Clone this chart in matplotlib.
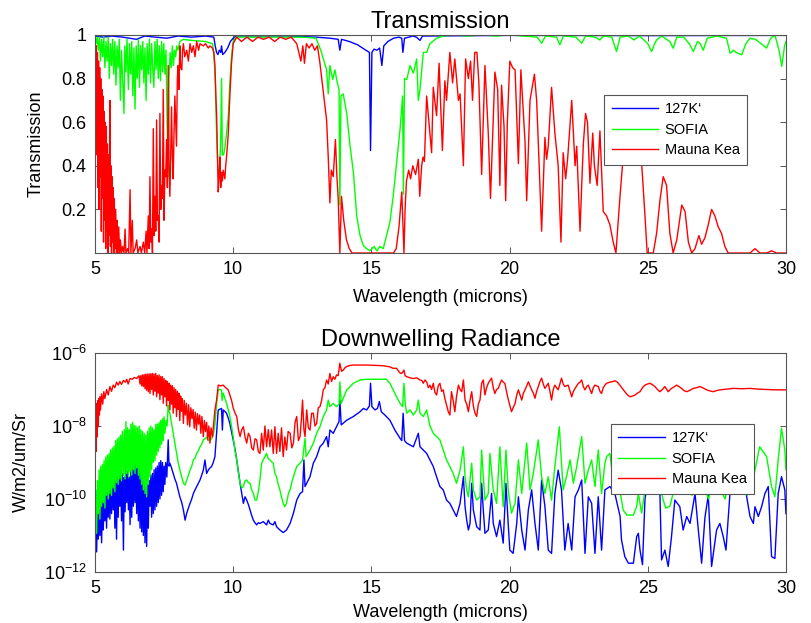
"""Atmospheric transmission and downwelling radiance, 5-30 microns.

Two stacked panels: transmission (linear) and radiance (log), each with
three sites. Values were read off the reference figure by eye.

Writes out.png
"""

import numpy as np
import matplotlib
matplotlib.use("Agg")
import matplotlib.pyplot as plt

# ---- transmission (wavelength um, transmission) ----------------------------
TRANS_127K = [
    (5.0, 0.995), (5.3, 0.99), (5.6, 0.995), (6.0, 0.99), (6.5, 0.98),
    (6.8, 0.995), (7.2, 0.99), (7.6, 0.985), (8.0, 0.995), (8.5, 0.99),
    (9.0, 0.995), (9.3, 0.99), (9.35, 0.95), (9.4, 0.92), (9.45, 0.91),
    (9.5, 0.93), (9.55, 0.92), (9.58, 0.95), (9.62, 0.91), (9.7, 0.92),
    (9.8, 0.94), (9.9, 0.97), (10.0, 0.985), (10.1, 0.995), (12.0, 0.995),
    (13.0, 0.99), (13.5, 0.985), (13.8, 0.98), (13.86, 0.93), (13.92, 0.98),
    (14.2, 0.97), (14.5, 0.955), (14.8, 0.93), (14.93, 0.92), (14.97, 0.47),
    (15.02, 0.92), (15.1, 0.935), (15.2, 0.93), (15.3, 0.94), (15.38, 0.86),
    (15.45, 0.95), (15.6, 0.97), (15.8, 0.985), (16.0, 0.99), (16.1, 0.985),
    (16.14, 0.92), (16.2, 0.985), (16.5, 0.995), (16.63, 0.99), (16.76, 0.975),
    (16.85, 0.995), (20.0, 0.998), (25.0, 0.997), (30.0, 0.998),
]

TRANS_SOFIA = [
    (5.00, 1.0), (5.04, 0.96), (5.08, 0.99), (5.12, 0.93), (5.16, 0.99),
    (5.20, 0.88), (5.24, 0.98), (5.28, 0.90), (5.32, 0.99), (5.36, 0.85),
    (5.40, 0.97), (5.44, 0.88), (5.48, 0.99), (5.52, 0.80), (5.56, 0.96),
    (5.60, 0.86), (5.64, 0.98), (5.68, 0.82), (5.72, 0.97), (5.76, 0.77),
    (5.80, 0.95), (5.84, 0.85), (5.88, 0.98), (5.92, 0.70), (5.96, 0.93),
    (6.00, 0.80), (6.05, 0.64), (6.08, 0.95), (6.12, 0.83), (6.16, 0.98),
    (6.21, 0.75), (6.25, 0.96), (6.29, 0.82), (6.33, 0.97), (6.37, 0.72),
    (6.41, 0.94), (6.45, 0.66), (6.49, 0.95), (6.53, 0.80), (6.57, 0.98),
    (6.61, 0.76), (6.65, 0.95), (6.69, 0.84), (6.73, 0.97), (6.77, 0.78),
    (6.81, 0.94), (6.85, 0.70), (6.89, 0.96), (6.93, 0.82), (6.97, 0.98),
    (7.01, 0.78), (7.05, 0.96), (7.09, 0.85), (7.13, 0.76), (7.17, 0.97),
    (7.21, 0.84), (7.25, 0.98), (7.29, 0.80), (7.33, 0.95), (7.37, 0.79),
    (7.41, 0.97), (7.45, 0.83), (7.49, 0.96), (7.53, 0.82), (7.57, 0.93),
    (7.61, 0.60), (7.65, 0.35), (7.68, 0.80), (7.72, 0.92), (7.76, 0.85),
    (7.80, 0.95), (7.84, 0.86), (7.88, 0.93), (7.92, 0.90), (7.96, 0.95),
    (8.00, 0.93), (8.07, 0.97), (8.2, 0.98), (8.5, 0.975), (9.0, 0.97),
    (9.25, 0.96), (9.30, 0.92), (9.35, 0.80), (9.40, 0.55), (9.45, 0.38),
    (9.50, 0.35), (9.55, 0.52), (9.58, 0.80), (9.61, 0.45), (9.65, 0.45),
    (9.70, 0.48), (9.76, 0.55), (9.82, 0.62), (9.88, 0.78), (9.94, 0.90),
    (10.0, 0.97), (10.1, 0.99), (12.5, 0.99), (13.0, 0.985), (13.17, 0.93),
    (13.38, 0.84), (13.44, 0.73), (13.50, 0.86), (13.60, 0.795), (13.68, 0.84),
    (13.77, 0.78), (13.83, 0.75), (13.86, 0.22), (13.90, 0.72), (13.98, 0.73),
    (14.11, 0.64), (14.23, 0.49), (14.35, 0.37), (14.47, 0.17), (14.59, 0.08),
    (14.71, 0.034), (14.83, 0.02), (14.95, 0.01), (15.10, 0.03), (15.20, 0.01),
    (15.30, 0.03), (15.43, 0.02), (15.55, 0.08), (15.67, 0.14), (15.79, 0.26),
    (15.91, 0.41), (16.04, 0.57), (16.13, 0.72), (16.16, 0.27), (16.20, 0.80),
    (16.28, 0.795), (16.40, 0.86), (16.52, 0.825), (16.64, 0.89), (16.70, 0.70),
    (16.76, 0.75), (16.88, 0.92), (17.0, 0.92), (17.12, 0.96), (17.36, 0.985),
    (17.6, 0.995), (18.0, 1.0), (18.5, 0.995), (19.0, 1.0), (19.5, 0.995),
    (20.0, 1.0), (20.5, 0.995), (21.0, 0.99), (21.16, 0.962), (21.3, 0.995),
    (21.7, 0.99), (21.82, 0.955), (21.95, 0.995), (22.4, 0.99), (22.61, 0.962),
    (22.75, 0.995), (23.1, 0.99), (23.27, 0.977), (23.4, 0.995), (23.7, 0.99),
    (23.87, 0.924), (24.0, 0.99), (24.3, 0.995), (24.5, 0.977), (24.7, 0.995),
    (25.0, 0.96), (25.14, 0.924), (25.25, 0.96), (25.32, 0.977), (25.5, 0.995),
    (25.8, 0.97), (25.92, 0.939), (26.05, 0.99), (26.3, 0.99), (26.5, 0.96),
    (26.65, 0.924), (26.8, 0.97), (26.9, 0.96), (27.01, 0.93), (27.15, 0.985),
    (27.5, 0.995), (27.85, 0.985), (27.98, 0.916), (28.1, 0.93), (28.2, 0.92),
    (28.4, 0.909), (28.55, 0.96), (28.7, 0.985), (28.9, 0.98), (29.1, 0.96),
    (29.3, 0.94), (29.45, 0.985), (29.6, 1.0), (29.75, 0.93), (29.85, 0.856),
    (29.95, 0.95), (30.0, 0.97),
]

TRANS_MAUNAKEA = [
    (5.00, 0.98), (5.03, 0.70), (5.05, 0.95), (5.07, 0.45), (5.09, 0.92),
    (5.11, 0.30), (5.13, 0.88), (5.15, 0.20), (5.17, 0.85), (5.19, 0.35),
    (5.21, 0.80), (5.23, 0.10), (5.25, 0.75), (5.27, 0.25), (5.29, 0.72),
    (5.31, 0.05), (5.33, 0.65), (5.35, 0.15), (5.37, 0.60), (5.39, 0.02),
    (5.41, 0.58), (5.43, 0.10), (5.45, 0.50), (5.47, 0.0), (5.49, 0.45),
    (5.51, 0.08), (5.54, 0.70), (5.56, 0.03), (5.58, 0.40), (5.60, 0.0),
    (5.62, 0.35), (5.64, 0.05), (5.66, 0.30), (5.68, 0.0), (5.70, 0.25),
    (5.72, 0.02), (5.75, 0.20), (5.78, 0.0), (5.80, 0.15), (5.83, 0.0),
    (5.86, 0.12), (5.89, 0.0), (5.92, 0.06), (5.96, 0.0), (6.00, 0.03),
    (6.05, 0.0), (6.09, 0.11), (6.12, 0.0), (6.18, 0.02), (6.22, 0.0),
    (6.27, 0.29), (6.30, 0.0), (6.35, 0.15), (6.38, 0.0), (6.45, 0.02),
    (6.51, 0.06), (6.55, 0.0), (6.63, 0.03), (6.68, 0.0), (6.75, 0.05),
    (6.80, 0.0), (6.85, 0.10), (6.88, 0.0), (6.93, 0.17), (6.96, 0.02),
    (6.99, 0.35), (7.02, 0.05), (7.05, 0.11), (7.08, 0.0), (7.11, 0.57),
    (7.14, 0.08), (7.17, 0.26), (7.20, 0.10), (7.23, 0.61), (7.26, 0.15),
    (7.29, 0.17), (7.32, 0.05), (7.35, 0.64), (7.38, 0.20), (7.41, 0.31),
    (7.44, 0.25), (7.47, 0.75), (7.50, 0.15), (7.53, 0.38), (7.56, 0.35),
    (7.59, 0.52), (7.62, 0.30), (7.65, 0.86), (7.68, 0.40), (7.71, 0.26),
    (7.74, 0.45), (7.77, 0.67), (7.80, 0.45), (7.83, 0.34), (7.86, 0.55),
    (7.89, 0.72), (7.92, 0.60), (7.95, 0.49), (7.98, 0.80), (8.01, 0.86),
    (8.04, 0.75), (8.07, 0.95), (8.10, 0.85), (8.14, 0.84), (8.17, 0.93),
    (8.20, 0.96), (8.25, 0.90), (8.32, 0.93), (8.38, 0.88), (8.44, 0.96),
    (8.50, 0.92), (8.56, 0.95), (8.62, 0.90), (8.68, 0.97), (8.75, 0.93),
    (8.80, 0.96), (8.92, 0.95), (9.00, 0.96), (9.10, 0.94), (9.16, 0.95),
    (9.25, 0.94), (9.30, 0.92), (9.34, 0.86), (9.38, 0.70), (9.40, 0.64),
    (9.43, 0.45), (9.46, 0.28), (9.49, 0.35), (9.52, 0.44), (9.55, 0.30),
    (9.58, 0.37), (9.61, 0.33), (9.64, 0.38), (9.67, 0.36), (9.70, 0.34),
    (9.73, 0.40), (9.76, 0.44), (9.82, 0.54), (9.88, 0.72), (9.94, 0.87),
    (10.00, 0.96), (10.13, 0.99), (10.3, 0.97), (10.5, 0.99), (10.7, 0.97),
    (10.9, 0.99), (11.1, 0.98), (11.3, 0.99), (11.5, 0.97), (11.7, 0.99),
    (11.9, 0.98), (12.1, 0.99), (12.3, 0.96), (12.45, 0.88), (12.52, 0.95),
    (12.58, 0.87), (12.65, 0.96), (12.75, 0.94), (12.85, 0.96), (12.95, 0.93),
    (13.05, 0.95), (13.14, 0.87), (13.25, 0.75), (13.38, 0.61), (13.44, 0.44),
    (13.50, 0.23), (13.55, 0.38), (13.62, 0.35), (13.70, 0.52), (13.75, 0.36),
    (13.80, 0.25), (13.86, 0.0), (13.92, 0.26), (14.0, 0.15), (14.1, 0.06),
    (14.2, 0.02), (14.3, 0.0), (15.8, 0.0), (15.9, 0.02), (16.0, 0.12),
    (16.05, 0.20), (16.1, 0.28), (16.18, 0.0), (16.22, 0.20), (16.27, 0.33),
    (16.35, 0.38), (16.42, 0.34), (16.50, 0.40), (16.60, 0.36), (16.70, 0.43),
    (16.75, 0.26), (16.82, 0.40), (16.87, 0.44), (16.92, 0.42), (17.00, 0.72),
    (17.18, 0.46), (17.24, 0.76), (17.36, 0.63), (17.45, 0.87), (17.57, 0.47),
    (17.66, 0.79), (17.72, 0.70), (17.84, 0.92), (17.94, 0.78), (18.02, 0.89),
    (18.15, 0.70), (18.21, 0.73), (18.33, 0.40), (18.41, 0.89), (18.51, 0.80),
    (18.59, 0.88), (18.66, 0.70), (18.74, 0.92), (18.82, 0.92), (18.89, 0.78),
    (18.99, 0.36), (19.11, 0.86), (19.23, 0.55), (19.31, 0.25), (19.47, 0.83),
    (19.57, 0.75), (19.65, 0.31), (19.71, 0.77), (19.80, 0.58), (19.86, 0.24),
    (19.92, 0.60), (20.01, 0.88), (20.11, 0.85), (20.20, 0.84), (20.32, 0.41),
    (20.41, 0.84), (20.56, 0.51), (20.62, 0.24), (20.74, 0.70), (20.90, 0.82),
    (20.98, 0.70), (21.06, 0.44), (21.16, 0.10), (21.28, 0.53), (21.34, 0.43),
    (21.40, 0.49), (21.52, 0.76), (21.64, 0.55), (21.76, 0.40), (21.86, 0.05),
    (21.94, 0.46), (22.03, 0.34), (22.10, 0.43), (22.25, 0.70), (22.37, 0.40),
    (22.43, 0.49), (22.55, 0.10), (22.61, 0.31), (22.67, 0.50), (22.75, 0.64),
    (22.82, 0.60), (22.91, 0.32), (23.01, 0.55), (23.07, 0.40), (23.17, 0.31),
    (23.27, 0.56), (23.39, 0.19), (23.51, 0.17), (23.63, 0.13), (23.75, 0.05),
    (23.85, 0.0), (23.99, 0.25), (24.09, 0.41), (24.36, 0.64), (24.60, 0.60),
    (24.78, 0.41), (24.90, 0.17), (24.98, 0.0), (25.20, 0.0), (25.32, 0.09),
    (25.44, 0.24), (25.56, 0.35), (25.68, 0.31), (25.80, 0.09), (25.92, 0.0),
    (26.05, 0.06), (26.23, 0.22), (26.35, 0.19), (26.47, 0.05), (26.59, 0.0),
    (26.71, 0.02), (26.85, 0.08), (26.95, 0.04), (27.07, 0.07), (27.19, 0.13),
    (27.31, 0.20), (27.43, 0.17), (27.55, 0.12), (27.67, 0.09), (27.79, 0.03),
    (27.91, 0.0), (28.70, 0.0), (28.88, 0.02), (29.06, 0.0), (29.30, 0.0),
    (29.48, 0.01), (29.66, 0.0), (30.0, 0.0),
]

# ---- downwelling radiance (wavelength um, log10 W/m2/um/Sr) -----------------
RAD_127K = [
    (5.00, -11.40), (5.03, -10.70), (5.06, -11.45), (5.09, -10.40), (5.12, -11.10),
    (5.15, -10.20), (5.18, -11.00), (5.21, -10.10), (5.24, -11.20), (5.27, -10.05),
    (5.30, -10.85), (5.33, -9.90), (5.36, -10.60), (5.39, -9.75), (5.42, -10.80),
    (5.45, -9.70), (5.48, -10.50), (5.51, -9.60), (5.54, -10.55), (5.57, -9.50),
    (5.60, -10.40), (5.63, -9.45), (5.66, -10.30), (5.69, -9.35), (5.72, -10.80),
    (5.75, -9.30), (5.78, -11.10), (5.81, -9.25), (5.84, -10.50), (5.87, -9.20),
    (5.90, -10.20), (5.93, -9.15), (5.96, -10.60), (5.99, -9.30), (6.03, -11.40),
    (6.06, -9.40), (6.09, -10.35), (6.12, -9.10), (6.15, -10.10), (6.18, -9.25),
    (6.21, -10.30), (6.24, -9.40), (6.27, -10.70), (6.30, -9.20), (6.33, -10.50),
    (6.36, -9.05), (6.39, -10.20), (6.42, -8.95), (6.45, -10.10), (6.48, -9.00),
    (6.51, -10.40), (6.54, -8.93), (6.57, -10.60), (6.60, -9.10), (6.63, -10.80),
    (6.66, -9.30), (6.69, -10.90), (6.72, -9.40), (6.75, -11.00), (6.78, -9.50),
    (6.81, -11.20), (6.84, -9.70), (6.87, -11.30), (6.90, -9.60), (6.93, -10.80),
    (6.96, -9.50), (6.99, -10.20), (7.02, -9.35), (7.05, -10.50), (7.08, -9.30),
    (7.11, -10.40), (7.14, -9.20), (7.17, -10.30), (7.20, -9.15), (7.23, -10.20),
    (7.26, -9.10), (7.29, -10.10), (7.32, -9.00), (7.35, -10.00), (7.38, -8.95),
    (7.41, -9.90), (7.44, -9.00), (7.47, -9.80), (7.50, -9.10), (7.53, -9.60),
    (7.56, -9.00), (7.60, -9.40), (7.65, -8.38), (7.68, -9.10), (7.71, -9.02),
    (7.77, -9.15), (7.83, -9.30), (7.89, -9.45), (7.95, -9.57), (8.01, -9.75),
    (8.07, -9.94), (8.14, -10.10), (8.20, -10.30), (8.26, -10.58), (8.32, -10.39),
    (8.38, -10.25), (8.44, -10.12), (8.50, -10.00), (8.56, -9.85), (8.62, -9.75),
    (8.68, -9.66), (8.74, -9.57), (8.80, -9.48), (8.86, -9.35), (8.92, -9.21),
    (8.98, -8.93), (9.04, -9.30), (9.10, -9.21), (9.16, -9.15), (9.22, -9.11),
    (9.28, -9.00), (9.34, -8.84), (9.40, -8.20), (9.46, -7.56), (9.52, -7.54),
    (9.58, -7.52), (9.61, -8.11), (9.64, -7.56), (9.70, -7.60), (9.76, -7.65),
    (9.82, -7.78), (9.88, -7.93), (9.94, -8.15), (10.00, -8.38), (10.07, -8.65),
    (10.13, -8.93), (10.19, -9.25), (10.25, -9.57), (10.31, -9.85), (10.37, -10.12),
    (10.43, -9.94), (10.49, -10.03), (10.55, -10.15), (10.61, -10.30), (10.67, -10.45),
    (10.73, -10.58), (10.79, -10.65), (10.85, -10.71), (10.91, -10.65), (10.97, -10.67),
    (11.09, -10.62), (11.21, -10.71), (11.27, -10.58), (11.33, -10.67), (11.45, -10.71),
    (11.51, -10.62), (11.57, -10.76), (11.69, -10.85), (11.81, -10.92), (11.93, -10.85),
    (12.06, -10.67), (12.18, -10.39), (12.30, -10.03), (12.42, -9.85), (12.51, -9.80),
    (12.56, -8.93), (12.60, -9.66), (12.66, -9.57), (12.78, -9.39), (12.90, -9.02),
    (13.02, -8.84), (13.14, -8.57), (13.26, -8.47), (13.38, -8.29), (13.44, -8.57),
    (13.50, -8.11), (13.62, -8.20), (13.74, -8.02), (13.83, -7.88), (13.86, -7.29),
    (13.91, -7.97), (14.11, -7.84), (14.35, -7.74), (14.59, -7.61), (14.71, -7.52),
    (14.83, -7.56), (14.93, -7.45), (14.97, -6.83), (15.02, -7.47), (15.13, -7.56),
    (15.22, -7.52), (15.29, -7.33), (15.36, -7.61), (15.49, -7.70), (15.67, -7.84),
    (15.85, -8.11), (16.04, -8.34), (16.10, -8.40), (16.15, -7.65), (16.20, -8.40),
    (16.28, -8.47), (16.52, -8.57), (16.70, -8.20), (16.76, -8.57), (16.88, -8.66),
    (17.00, -8.75), (17.12, -8.93), (17.24, -9.11), (17.36, -9.39), (17.48, -9.66),
    (17.60, -9.75), (17.72, -10.03), (17.84, -10.12), (17.96, -10.30), (18.08, -10.48),
    (18.21, -10.12), (18.33, -9.39), (18.39, -10.21), (18.45, -10.58), (18.51, -10.85),
    (18.57, -10.67), (18.63, -9.57), (18.69, -10.30), (18.81, -10.76), (18.93, -10.85),
    (18.99, -9.57), (19.05, -10.30), (19.11, -10.94), (19.23, -10.85), (19.35, -9.85),
    (19.41, -10.67), (19.53, -11.03), (19.65, -10.58), (19.77, -11.21), (19.87, -9.57),
    (19.95, -10.67), (20.01, -11.40), (20.13, -11.49), (20.26, -10.67), (20.32, -9.94),
    (20.44, -10.85), (20.56, -11.40), (20.68, -10.30), (20.80, -9.75), (20.92, -10.67),
    (21.04, -11.40), (21.16, -9.48), (21.28, -10.21), (21.40, -11.40), (21.52, -11.49),
    (21.64, -9.85), (21.76, -9.21), (21.88, -9.75), (22.00, -11.40), (22.12, -10.67),
    (22.25, -11.40), (22.37, -9.94), (22.49, -9.75), (22.61, -9.48), (22.73, -11.49),
    (22.85, -9.94), (22.97, -10.12), (23.09, -11.49), (23.21, -9.94), (23.33, -11.40),
    (23.45, -9.75), (23.63, -9.66), (23.81, -9.85), (24.00, -10.48), (24.05, -11.12),
    (24.17, -11.58), (24.30, -11.76), (24.48, -11.76), (24.60, -11.03), (24.66, -10.94),
    (24.72, -11.40), (24.81, -11.80), (24.90, -10.00), (25.08, -9.20), (25.32, -9.50),
    (25.44, -9.85), (25.50, -11.67), (25.62, -11.40), (25.74, -11.85), (25.86, -11.03),
    (25.98, -10.03), (26.16, -10.21), (26.28, -10.85), (26.41, -10.48), (26.53, -10.67),
    (26.71, -9.85), (26.83, -10.85), (26.95, -11.76), (27.07, -10.50), (27.19, -9.90),
    (27.31, -11.85), (27.49, -10.85), (27.61, -10.67), (27.73, -11.03), (27.83, -11.40),
    (27.97, -9.90), (28.21, -9.20), (28.46, -9.30), (28.58, -9.94), (28.70, -10.48),
    (28.82, -10.67), (28.88, -10.21), (29.00, -10.48), (29.12, -10.21), (29.24, -9.85),
    (29.36, -9.66), (29.48, -11.58), (29.60, -11.63), (29.72, -9.85), (29.84, -9.39),
    (29.96, -9.75), (30.00, -10.40),
]

RAD_SOFIA = [
    (5.00, -10.76), (5.03, -9.75), (5.06, -10.94), (5.09, -9.50), (5.12, -10.40),
    (5.15, -9.20), (5.18, -10.55), (5.21, -9.10), (5.24, -10.20), (5.27, -9.05),
    (5.30, -10.10), (5.33, -8.95), (5.36, -10.25), (5.39, -8.85), (5.42, -9.90),
    (5.45, -8.80), (5.48, -10.00), (5.51, -8.75), (5.54, -9.85), (5.57, -8.65),
    (5.60, -9.90), (5.63, -8.60), (5.66, -9.70), (5.69, -8.55), (5.72, -9.80),
    (5.75, -8.40), (5.78, -9.55), (5.81, -8.35), (5.84, -9.60), (5.87, -8.30),
    (5.90, -9.45), (5.93, -8.25), (5.96, -9.50), (5.99, -8.15), (6.03, -9.35),
    (6.06, -8.10), (6.09, -9.45), (6.12, -7.88), (6.15, -9.30), (6.18, -8.05),
    (6.21, -9.40), (6.24, -8.10), (6.27, -9.25), (6.30, -7.95), (6.33, -9.35),
    (6.36, -7.90), (6.39, -9.20), (6.42, -7.98), (6.45, -9.30), (6.48, -8.00),
    (6.51, -9.15), (6.54, -8.05), (6.57, -9.35), (6.60, -8.00), (6.63, -9.45),
    (6.66, -8.10), (6.69, -9.60), (6.72, -8.15), (6.75, -9.75), (6.78, -8.20),
    (6.81, -9.85), (6.84, -8.25), (6.87, -9.94), (6.90, -8.15), (6.93, -9.60),
    (6.96, -8.05), (6.99, -9.40), (7.02, -8.00), (7.05, -9.20), (7.08, -8.05),
    (7.11, -9.00), (7.14, -8.10), (7.17, -8.95), (7.20, -7.95), (7.23, -8.80),
    (7.26, -7.95), (7.29, -8.70), (7.32, -7.90), (7.35, -8.60), (7.38, -7.85),
    (7.41, -8.50), (7.44, -7.80), (7.47, -8.40), (7.50, -7.75), (7.53, -8.20),
    (7.57, -7.85), (7.61, -8.00), (7.65, -7.43), (7.68, -7.60), (7.71, -7.65),
    (7.77, -7.93), (7.83, -8.20), (7.89, -8.47), (7.95, -8.75), (8.01, -9.00),
    (8.07, -9.20), (8.14, -9.40), (8.20, -9.57), (8.26, -9.62), (8.32, -9.48),
    (8.38, -9.35), (8.44, -9.21), (8.50, -9.10), (8.56, -8.93), (8.62, -8.88),
    (8.68, -8.75), (8.74, -8.68), (8.80, -8.57), (8.86, -8.50), (8.92, -8.38),
    (8.98, -8.35), (9.04, -8.30), (9.10, -8.40), (9.16, -8.38), (9.22, -8.35),
    (9.28, -8.25), (9.34, -7.95), (9.40, -7.40), (9.46, -7.01), (9.52, -7.00),
    (9.58, -7.01), (9.60, -7.30), (9.64, -7.10), (9.76, -7.38), (9.82, -7.55),
    (9.88, -7.74), (9.94, -8.00), (10.00, -8.29), (10.07, -8.70), (10.13, -8.93),
    (10.19, -9.30), (10.25, -9.57), (10.31, -9.70), (10.37, -9.66), (10.43, -9.50),
    (10.49, -9.48), (10.55, -9.55), (10.61, -9.57), (10.67, -9.75), (10.73, -9.85),
    (10.79, -10.03), (10.85, -10.03), (10.91, -9.80), (10.97, -9.48), (11.03, -9.02),
    (11.09, -8.93), (11.15, -8.84), (11.21, -8.75), (11.27, -8.90), (11.33, -8.93),
    (11.39, -8.98), (11.45, -9.02), (11.51, -9.30), (11.57, -9.39), (11.63, -9.60),
    (11.69, -9.75), (11.75, -9.95), (11.81, -10.12), (11.87, -10.21), (11.93, -10.12),
    (12.00, -9.85), (12.06, -9.75), (12.12, -9.55), (12.18, -9.39), (12.30, -9.11),
    (12.42, -9.02), (12.51, -8.93), (12.60, -8.34), (12.64, -8.84), (12.78, -8.66),
    (12.90, -8.47), (13.02, -8.20), (13.14, -8.02), (13.26, -7.74), (13.38, -7.56),
    (13.44, -7.29), (13.50, -7.47), (13.62, -7.38), (13.74, -7.47), (13.83, -7.40),
    (13.86, -6.79), (13.91, -7.38), (14.11, -7.01), (14.35, -6.83), (14.59, -6.74),
    (14.83, -6.72), (15.19, -6.72), (15.55, -6.72), (15.67, -6.83), (15.79, -7.01),
    (15.91, -7.20), (16.04, -7.38), (16.13, -7.47), (16.18, -6.83), (16.23, -7.42),
    (16.28, -7.65), (16.40, -7.56), (16.52, -7.70), (16.64, -7.56), (16.70, -7.29),
    (16.76, -7.65), (16.88, -7.74), (17.00, -7.56), (17.12, -8.00), (17.24, -8.20),
    (17.36, -8.29), (17.48, -8.38), (17.60, -8.66), (17.72, -8.93), (17.84, -9.11),
    (17.96, -9.30), (18.08, -9.57), (18.21, -9.21), (18.33, -8.57), (18.39, -9.39),
    (18.45, -9.75), (18.51, -9.94), (18.63, -9.02), (18.69, -9.75), (18.81, -10.03),
    (18.93, -9.94), (18.99, -8.66), (19.05, -9.39), (19.11, -10.03), (19.23, -9.85),
    (19.29, -8.75), (19.41, -9.75), (19.53, -10.12), (19.65, -8.57), (19.77, -10.21),
    (19.87, -8.66), (19.95, -9.75), (20.07, -10.39), (20.20, -10.12), (20.32, -8.93),
    (20.44, -9.85), (20.62, -8.47), (20.74, -9.75), (20.86, -9.30), (21.04, -8.38),
    (21.16, -9.39), (21.28, -9.85), (21.40, -9.39), (21.52, -10.03), (21.64, -9.11),
    (21.80, -8.02), (21.94, -9.75), (22.06, -9.39), (22.19, -8.93), (22.31, -9.57),
    (22.43, -9.11), (22.61, -8.29), (22.73, -9.57), (22.85, -9.21), (22.97, -8.93),
    (23.09, -9.66), (23.21, -8.66), (23.33, -9.85), (23.45, -9.02), (23.51, -8.84),
    (23.63, -8.75), (23.75, -9.50), (23.87, -9.85), (23.99, -9.75), (24.11, -10.30),
    (24.24, -10.44), (24.48, -10.44), (24.60, -10.21), (24.66, -9.85), (24.78, -10.39),
    (24.90, -9.75), (25.00, -9.00), (25.20, -8.60), (25.40, -9.50), (25.55, -10.00),
    (25.65, -10.25), (25.80, -10.20), (25.90, -9.90), (26.00, -9.00), (26.20, -8.80),
    (26.40, -9.50), (26.60, -9.90), (26.80, -9.20), (27.00, -9.60), (27.20, -10.00),
    (27.40, -9.30), (27.60, -9.70), (27.80, -10.00), (28.00, -9.00), (28.20, -8.80),
    (28.40, -9.40), (28.60, -9.90), (28.80, -9.50), (29.05, -8.57), (29.30, -8.84),
    (29.48, -9.66), (29.60, -9.94), (29.72, -8.93), (29.84, -8.06), (29.96, -8.66),
    (30.00, -9.20),
]

RAD_MAUNAKEA = [
    (5.00, -8.93), (5.02, -7.60), (5.04, -8.70), (5.06, -7.38), (5.08, -8.30),
    (5.10, -7.30), (5.12, -8.02), (5.14, -7.25), (5.16, -7.70), (5.18, -7.20),
    (5.20, -7.56), (5.24, -7.12), (5.28, -7.40), (5.32, -7.06), (5.36, -7.25),
    (5.42, -7.00), (5.48, -7.15), (5.54, -6.92), (5.60, -7.05), (5.66, -6.88),
    (5.72, -6.95), (5.78, -6.80), (5.84, -6.88), (5.90, -6.78), (5.96, -6.86),
    (6.03, -6.75), (6.10, -6.80), (6.15, -6.72), (6.20, -6.85), (6.27, -6.70),
    (6.35, -6.72), (6.42, -6.67), (6.51, -6.70), (6.58, -6.63), (6.60, -6.63),
    (6.63, -6.85), (6.66, -6.62), (6.69, -6.90), (6.72, -6.60), (6.75, -6.92),
    (6.78, -6.59), (6.81, -6.98), (6.84, -6.58), (6.87, -7.02), (6.90, -6.58),
    (6.93, -7.06), (6.96, -6.57), (6.99, -7.11), (7.02, -6.57), (7.05, -7.00),
    (7.08, -6.56), (7.11, -7.15), (7.14, -6.58), (7.17, -7.05), (7.20, -6.56),
    (7.23, -7.20), (7.26, -6.62), (7.29, -7.10), (7.32, -6.60), (7.35, -7.28),
    (7.38, -6.64), (7.41, -7.15), (7.44, -6.65), (7.47, -7.38), (7.50, -6.70),
    (7.53, -7.20), (7.56, -6.75), (7.59, -7.45), (7.62, -6.78), (7.65, -7.30),
    (7.68, -6.83), (7.71, -7.56), (7.74, -6.88), (7.77, -7.40), (7.80, -6.90),
    (7.83, -7.65), (7.86, -6.95), (7.89, -7.50), (7.92, -7.00), (7.95, -7.74),
    (7.98, -7.05), (8.01, -7.55), (8.04, -7.10), (8.07, -7.85), (8.10, -7.18),
    (8.13, -7.60), (8.16, -7.25), (8.20, -7.93), (8.23, -7.30), (8.27, -7.70),
    (8.31, -7.38), (8.35, -7.97), (8.39, -7.42), (8.43, -8.02), (8.47, -7.50),
    (8.51, -7.80), (8.55, -7.55), (8.59, -8.06), (8.63, -7.62), (8.67, -8.11),
    (8.71, -7.66), (8.75, -7.95), (8.79, -7.70), (8.83, -8.20), (8.87, -7.74),
    (8.92, -8.29), (8.96, -7.85), (9.00, -8.15), (9.04, -7.90), (9.08, -8.38),
    (9.12, -8.00), (9.16, -8.47), (9.20, -8.05), (9.25, -8.30), (9.30, -7.90),
    (9.34, -7.56), (9.40, -7.29), (9.46, -6.88), (9.55, -6.90), (9.64, -6.88),
    (9.70, -6.93), (9.76, -6.97), (9.82, -7.01), (9.88, -7.15), (9.94, -7.29),
    (10.00, -7.50), (10.07, -7.65), (10.13, -7.74), (10.19, -8.10), (10.25, -8.29),
    (10.31, -8.10), (10.37, -8.02), (10.43, -8.30), (10.49, -8.47), (10.55, -8.20),
    (10.61, -8.29), (10.67, -8.60), (10.73, -8.66), (10.79, -8.35), (10.85, -8.38),
    (10.91, -8.70), (10.97, -8.75), (11.03, -8.20), (11.09, -8.66), (11.15, -8.00),
    (11.21, -8.57), (11.27, -8.10), (11.33, -8.57), (11.39, -8.11), (11.45, -8.75),
    (11.51, -8.02), (11.57, -8.75), (11.63, -8.20), (11.69, -8.70), (11.75, -8.05),
    (11.81, -8.84), (11.87, -8.30), (11.93, -8.66), (11.99, -8.15), (12.06, -8.20),
    (12.12, -8.60), (12.18, -8.47), (12.24, -7.90), (12.30, -7.74), (12.36, -8.40),
    (12.42, -8.29), (12.47, -7.80), (12.51, -7.29), (12.56, -8.10), (12.60, -8.29),
    (12.66, -7.56), (12.72, -8.05), (12.78, -8.11), (12.84, -7.65), (12.90, -7.65),
    (12.96, -8.00), (13.02, -7.93), (13.08, -7.50), (13.14, -7.47), (13.20, -7.30),
    (13.26, -7.01), (13.32, -6.95), (13.38, -6.74), (13.44, -6.85), (13.50, -6.56),
    (13.56, -6.78), (13.62, -6.65), (13.68, -6.72), (13.74, -6.60), (13.80, -6.62),
    (13.86, -6.28), (13.92, -6.50), (13.98, -6.47), (14.05, -6.40), (14.11, -6.37),
    (14.23, -6.34), (14.35, -6.33), (14.59, -6.33), (14.83, -6.33), (15.19, -6.34),
    (15.43, -6.35), (15.67, -6.38), (15.79, -6.42), (15.91, -6.42), (16.04, -6.55),
    (16.10, -6.56), (16.18, -6.47), (16.22, -6.62), (16.28, -6.65), (16.40, -6.68),
    (16.52, -6.70), (16.64, -6.68), (16.76, -6.74), (16.82, -6.75), (16.88, -6.83),
    (16.94, -6.74), (17.00, -6.79), (17.06, -6.95), (17.12, -6.88), (17.18, -7.00),
    (17.24, -6.83), (17.30, -7.08), (17.36, -7.15), (17.42, -6.90), (17.48, -6.83),
    (17.54, -7.05), (17.60, -7.01), (17.66, -7.25), (17.72, -7.42), (17.78, -7.60),
    (17.84, -7.70), (17.90, -7.06), (17.96, -7.30), (18.02, -7.61), (18.08, -7.20),
    (18.15, -6.88), (18.21, -7.00), (18.27, -7.06), (18.33, -6.74), (18.39, -7.29),
    (18.45, -7.40), (18.51, -7.61), (18.57, -7.30), (18.63, -7.06), (18.69, -7.45),
    (18.75, -7.65), (18.81, -7.74), (18.87, -7.40), (18.93, -7.29), (18.99, -6.83),
    (19.05, -6.74), (19.11, -7.15), (19.17, -6.95), (19.23, -6.83), (19.29, -6.75),
    (19.35, -6.69), (19.41, -6.95), (19.47, -7.11), (19.53, -7.00), (19.59, -6.97),
    (19.65, -6.85), (19.71, -6.74), (19.77, -6.80), (19.83, -6.83), (19.93, -7.20),
    (20.00, -7.40), (20.07, -7.61), (20.13, -7.50), (20.20, -7.38), (20.26, -7.15),
    (20.32, -7.01), (20.38, -7.15), (20.44, -7.29), (20.50, -7.10), (20.56, -7.01),
    (20.62, -6.90), (20.68, -6.79), (20.74, -6.90), (20.80, -7.01), (20.86, -7.10),
    (20.92, -7.24), (20.98, -7.05), (21.04, -6.92), (21.10, -6.78), (21.16, -6.69),
    (21.22, -6.85), (21.28, -6.97), (21.34, -6.90), (21.40, -6.83), (21.46, -7.05),
    (21.52, -7.29), (21.58, -7.00), (21.64, -6.88), (21.70, -6.95), (21.76, -7.01),
    (21.82, -6.85), (21.88, -6.69), (21.94, -6.85), (22.00, -6.92), (22.06, -6.90),
    (22.12, -6.88), (22.19, -7.05), (22.25, -7.20), (22.31, -7.05), (22.37, -6.97),
    (22.43, -6.90), (22.49, -6.83), (22.55, -6.80), (22.61, -6.74), (22.67, -6.92),
    (22.73, -7.01), (22.79, -6.92), (22.85, -6.88), (22.91, -7.00), (22.97, -7.11),
    (23.03, -6.95), (23.09, -6.88), (23.15, -6.90), (23.21, -6.92), (23.27, -7.05),
    (23.33, -7.11), (23.39, -6.95), (23.45, -6.88), (23.51, -6.83), (23.63, -6.80),
    (23.75, -6.78), (23.81, -6.76), (23.90, -6.80), (23.99, -6.88), (24.08, -6.97),
    (24.17, -7.06), (24.27, -7.15), (24.36, -7.20), (24.45, -7.18), (24.54, -7.15),
    (24.63, -7.10), (24.72, -7.06), (24.81, -6.95), (24.90, -6.88), (24.99, -6.85),
    (25.08, -6.83), (25.17, -6.87), (25.26, -6.92), (25.35, -7.00), (25.44, -7.06),
    (25.53, -7.00), (25.62, -6.92), (25.74, -7.06), (25.86, -6.97), (25.95, -6.93),
    (26.04, -6.88), (26.13, -6.92), (26.22, -6.97), (26.31, -7.03), (26.41, -7.06),
    (26.53, -7.02), (26.65, -6.97), (26.77, -6.95), (26.89, -6.92), (27.01, -6.96),
    (27.13, -7.01), (27.25, -7.04), (27.37, -7.06), (27.49, -7.03), (27.61, -7.01),
    (27.85, -6.99), (28.09, -6.97), (28.40, -6.98), (28.70, -6.97), (29.00, -6.99),
    (29.30, -7.00), (29.60, -7.01), (30.00, -7.01),
]

SITES = ["127K\u2018", "SOFIA", "Mauna Kea"]
COLORS = ["#0000ff", "#00ff00", "#ff0000"]
X_TICKS = [5, 10, 15, 20, 25, 30]
T_TICKS = [0.2, 0.4, 0.6, 0.8, 1.0]
T_TICKLABELS = ["0.2", "0.4", "0.6", "0.8", "1"]
R_TICK_EXPONENTS = [-12, -10, -8, -6]


def _style(ax, xlabelpad):
    for s in ax.spines.values():
        s.set_color("#555555")
        s.set_linewidth(0.8)
    ax.tick_params(direction="in", top=True, right=True, length=4,
                   width=0.7, color="#555555", labelsize=13, pad=6)
    ax.set_xlim(5, 30)
    ax.set_xticks(X_TICKS)
    ax.set_xlabel("Wavelength (microns)", fontsize=13, labelpad=xlabelpad)


def _legend(ax, anchor):
    leg = ax.legend(loc="upper left", bbox_to_anchor=anchor, borderaxespad=0,
                    fontsize=10.5, frameon=True, fancybox=False, framealpha=1,
                    handlelength=3.2, borderpad=0.5, labelspacing=0.45,
                    handletextpad=0.45)
    leg.get_frame().set_edgecolor("#555555")
    leg.get_frame().set_linewidth(0.8)


def main():
    plt.rcParams["font.family"] = ["Liberation Sans", "DejaVu Sans"]
    plt.rcParams["mathtext.fontset"] = "custom"
    plt.rcParams["mathtext.rm"] = "Liberation Sans"
    plt.rcParams["mathtext.it"] = "Liberation Sans"

    fig = plt.figure(figsize=(8.11, 6.23), dpi=100)
    ax1 = fig.add_axes([0.1171, 0.5939, 0.852, 0.350])
    ax2 = fig.add_axes([0.1171, 0.0819, 0.852, 0.3515])

    for name, color, series in zip(SITES, COLORS,
                                   [TRANS_127K, TRANS_SOFIA, TRANS_MAUNAKEA]):
        wl, t = np.array(series).T
        ax1.plot(wl, t, color=color, lw=1.0, label=name)
    _style(ax1, 8)
    ax1.set_ylim(0, 1)
    ax1.set_yticks(T_TICKS)
    ax1.set_yticklabels(T_TICKLABELS)
    ax1.set_ylabel("Transmission", fontsize=13, labelpad=12)
    ax1.set_title("Transmission", fontsize=17, pad=5)
    _legend(ax1, (0.737, 0.725))

    for name, color, series in zip(SITES, COLORS,
                                   [RAD_127K, RAD_SOFIA, RAD_MAUNAKEA]):
        wl, logr = np.array(series).T
        ax2.plot(wl, 10.0 ** logr, color=color, lw=1.0, label=name)
    _style(ax2, 5)
    ax2.set_yscale("log")
    ax2.set_ylim(1e-12, 1e-6)
    ax2.set_yticks([10.0 ** e for e in R_TICK_EXPONENTS])
    ax2.set_yticklabels([f"$10^{{{e}}}$" for e in R_TICK_EXPONENTS])
    ax2.yaxis.set_minor_locator(matplotlib.ticker.NullLocator())
    ax2.set_ylabel("W/m2/um/Sr", fontsize=13, labelpad=10)
    ax2.set_title("Downwelling Radiance", fontsize=17, pad=5)
    _legend(ax2, (0.747, 0.676))

    fig.savefig("out.png", dpi=100)
    plt.close(fig)


if __name__ == "__main__":
    main()
